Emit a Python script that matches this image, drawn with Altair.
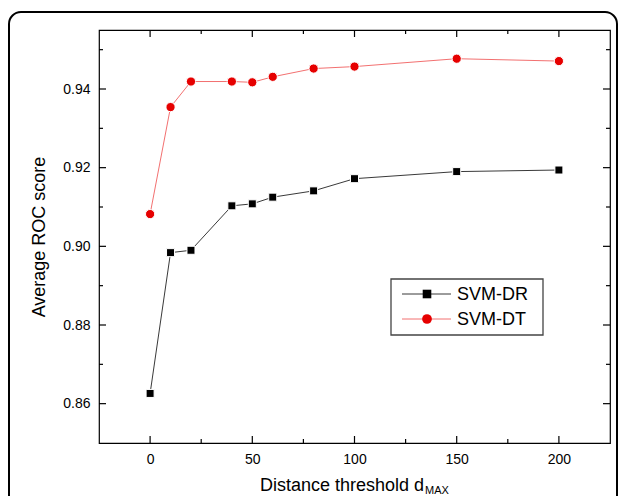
import altair as alt
import pandas as pd

# ---- data ----
x_vals = [0, 10, 20, 40, 50, 60, 80, 100, 150, 200]
svm_dr = [0.8626, 0.8984, 0.8990, 0.9103, 0.9108, 0.9125, 0.9141, 0.9172, 0.9190, 0.9194]
svm_dt = [0.9082, 0.9354, 0.9419, 0.9419, 0.9417, 0.9431, 0.9452, 0.9457, 0.9477, 0.9471]
series_names = ["SVM-DR", "SVM-DT"]
x_major = [0, 50, 100, 150, 200]
x_minor = [25, 75, 125, 175]
y_major = [0.86, 0.88, 0.90, 0.92, 0.94]
y_minor = [0.87, 0.89, 0.91, 0.93, 0.95]

W, H = 511, 413
FONT = "Liberation Sans"
marker_colors = ["#000000", "#e60000"]
line_colors = ["#222222", "#f06060"]
shapes = ["square", "circle"]
sizes = [64, 85]

df = pd.DataFrame({
    "d": x_vals * 2,
    "score": svm_dr + svm_dt,
    "series": [series_names[0]] * len(x_vals) + [series_names[1]] * len(x_vals),
})

xs = alt.Scale(domain=[-25, 225], nice=False, zero=False)
ys = alt.Scale(domain=[0.85, 0.955], nice=False, zero=False)

x_axis = alt.Axis(values=x_major, ticks=False, grid=False, domain=False,
                  labelFontSize=14, labelPadding=9, labelFont=FONT,
                  labelColor="black", title=None)
y_axis = alt.Axis(values=y_major, format=".2f", ticks=False, grid=False, domain=False,
                  labelFontSize=14, labelPadding=9, labelFont=FONT, labelColor="black",
                  title="Average ROC score", titleFontSize=18, titleFont=FONT,
                  titleFontWeight="normal", titlePadding=14, titleColor="black")

XF = lambda f: alt.X(f, scale=xs, axis=x_axis, title=None)
YF = lambda f: alt.Y(f, scale=ys, axis=y_axis, title="Average ROC score")

lines = alt.Chart(df).mark_line(strokeWidth=0.9).encode(
    x=XF("d:Q"),
    y=YF("score:Q"),
    color=alt.Color("series:N", scale=alt.Scale(domain=series_names, range=line_colors), legend=None),
    detail="series:N",
)

points = alt.Chart(df).mark_point(filled=True, opacity=1, stroke="white", strokeWidth=1).encode(
    x=XF("d:Q"),
    y=YF("score:Q"),
    fill=alt.Fill("series:N", scale=alt.Scale(domain=series_names, range=marker_colors), legend=None),
    shape=alt.Shape("series:N", scale=alt.Scale(domain=series_names, range=shapes), legend=None),
    size=alt.Size("series:N", scale=alt.Scale(domain=series_names, range=sizes), legend=None),
)

def xticks(vals, length):
    d = pd.DataFrame({"d": vals})
    bottom = alt.Chart(d).mark_rule(color="black", strokeWidth=1.2).encode(
        x=XF("d:Q"), y=alt.value(H), y2=alt.value(H - length))
    top = alt.Chart(d).mark_rule(color="black", strokeWidth=1.2).encode(
        x=XF("d:Q"), y=alt.value(0), y2=alt.value(length))
    return [bottom, top]

def yticks(vals, length):
    d = pd.DataFrame({"score": vals})
    left = alt.Chart(d).mark_rule(color="black", strokeWidth=1.2).encode(
        y=YF("score:Q"), x=alt.value(0), x2=alt.value(length))
    right = alt.Chart(d).mark_rule(color="black", strokeWidth=1.2).encode(
        y=YF("score:Q"), x=alt.value(W), x2=alt.value(W - length))
    return [left, right]

tick_layers = xticks(x_major, 7) + xticks(x_minor, 4) + yticks(y_major, 7) + yticks(y_minor, 4)

one = pd.DataFrame({"a": [0]})

# legend (drawn manually: line + marker + label)
legend_layers = [
    alt.Chart(one).mark_rect(fill="white", stroke="#444444", strokeWidth=1.3).encode(
        x=alt.value(292), x2=alt.value(444), y=alt.value(249), y2=alt.value(305))
]
for i, name in enumerate(series_names):
    yy = 264 + 25 * i
    legend_layers.append(alt.Chart(one).mark_rule(color=line_colors[i], strokeWidth=0.9).encode(
        x=alt.value(303), x2=alt.value(352), y=alt.value(yy)))
    legend_layers.append(alt.Chart(one).mark_point(filled=True, opacity=1, shape=shapes[i],
                                                   size=sizes[i] + 10, color=marker_colors[i]).encode(
        x=alt.value(328), y=alt.value(yy)))
    legend_layers.append(alt.Chart(one).mark_text(text=name, align="left", baseline="middle",
                                                  fontSize=18, font=FONT, color="black").encode(
        x=alt.value(358), y=alt.value(yy + 1)))

# x title with subscript
title_layers = [
    alt.Chart(one).mark_text(text="Distance threshold d", align="right", baseline="middle",
                             fontSize=18, font=FONT, color="black").encode(
        x=alt.value(325), y=alt.value(456)),
    alt.Chart(one).mark_text(text="MAX", align="left", baseline="middle",
                             fontSize=11, font=FONT, color="black").encode(
        x=alt.value(326), y=alt.value(461)),
]

# outer rounded frame
frame = alt.Chart(one).mark_rect(fillOpacity=0, stroke="black", strokeWidth=2, cornerRadius=12).encode(
    x=alt.value(-90), x2=alt.value(518), y=alt.value(-18), y2=alt.value(530))

chart = alt.layer(
    lines, points, *tick_layers, *legend_layers, *title_layers, frame
).properties(
    width=W, height=H,
    padding={"left": 91, "top": 22, "right": 9, "bottom": 53},
    autosize=alt.AutoSizeParams(type="none"),
    background="white",
).configure_view(stroke="black", strokeWidth=1.2)

chart.save("out.html", embed_options={"renderer": "svg", "actions": False})
